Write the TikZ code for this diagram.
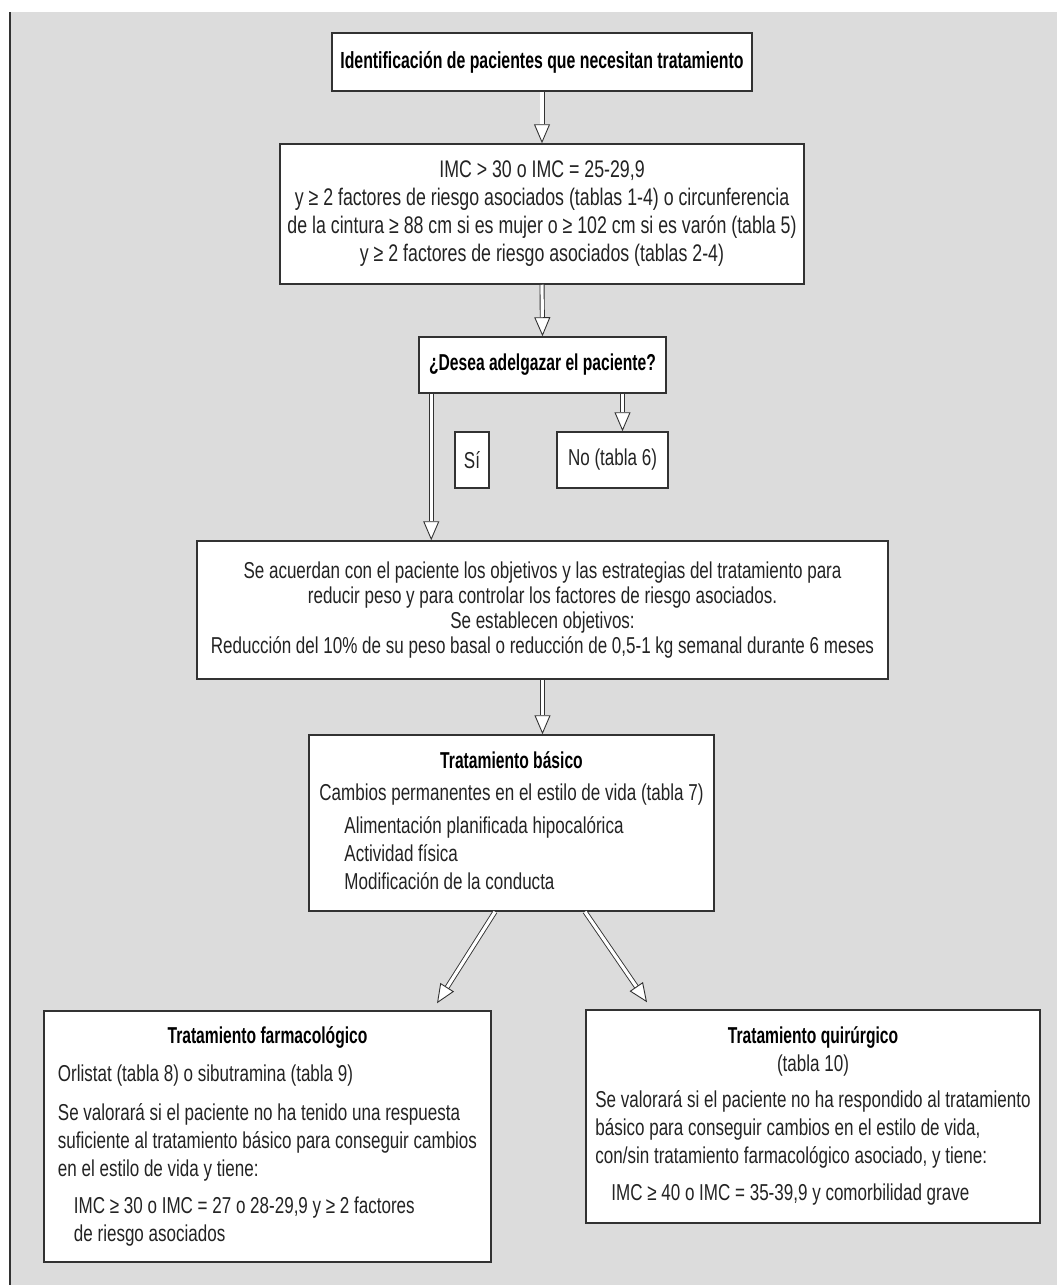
\documentclass[tikz,border=0pt]{standalone}
\usepackage{fontspec}
\setmainfont{Liberation Sans}[FakeStretch=0.74]
\newfontfamily\negrita{Liberation Sans Bold}[FakeStretch=0.68]
\usetikzlibrary{arrows.meta}
\definecolor{fondo}{RGB}{220,220,220}
\definecolor{borde}{RGB}{50,50,50}
\definecolor{texto}{RGB}{35,35,35}
\tikzset{
	caja/.style={draw=borde, line width=1.5pt, fill=white, inner sep=0pt, text=texto, font=\fontsize{23}{28}\selectfont},
	titulo/.style={caja, text=black, font=\fontsize{23}{28}\selectfont\negrita},
	flecha/.style={draw=borde, line width=0.9pt, double=white, double distance=3.2pt, -{Triangle[open, fill=white, length=19pt, width=16pt, line width=0.9pt]}}
}

\begin{document}
\begin{tikzpicture}[x=1pt, y=1pt]
			%%%%% START %%%%%
			
			\useasboundingbox (0,0) rectangle (1057,-1285);
			\fill[fondo] (10,-12) rectangle (1057,-1285);
			\draw[borde, line width=1.5pt] (10,-12) -- (10,-1285);
			
			\node[titulo, minimum width=420, minimum height=58, font=\fontsize{23.3}{30}\selectfont\negrita] (ident) at (542,-62) {Identificación de pacientes que necesitan tratamiento};
			
			\node[caja, minimum width=524, minimum height=140, align=center, font=\fontsize{24}{28}\selectfont] (crit) at (542,-214) {IMC > 30 o IMC = 25-29,9\\y ≥ 2 factores de riesgo asociados (tablas 1-4) o circunferencia\\de la cintura ≥ 88 cm si es mujer o ≥ 102 cm si es varón (tabla 5)\\y ≥ 2 factores de riesgo asociados (tablas 2-4)};
			
			\node[titulo, minimum width=247, minimum height=56] (desea) at (542.5,-365) {¿Desea adelgazar el paciente?};
			
			\node[caja, minimum width=34, minimum height=56] (si) at (472,-460) {Sí};
			\node[caja, minimum width=111, minimum height=56] (nobox) at (612.5,-460) {No (tabla 6)};
			
			\node[caja, minimum width=691, minimum height=138, align=center, font=\fontsize{23}{25}\selectfont] (acuerdo) at (542.5,-610) {Se acuerdan con el paciente los objetivos y las estrategias del tratamiento para\\reducir peso y para controlar los factores de riesgo asociados.\\Se establecen objetivos:\\Reducción del 10\% de su peso basal o reducción de 0,5-1 kg semanal durante 6 meses};
			
			\node[caja, minimum width=405, minimum height=176] (basico) at (511.5,-823) {\begin{tabular}{@{}l@{}}
				\multicolumn{1}{@{}c@{}}{\negrita\color{black}Tratamiento básico}\\[4pt]
				Cambios permanentes en el estilo de vida (tabla 7)\\[5pt]
				\hspace{25pt}Alimentación planificada hipocalórica\\
				\hspace{25pt}Actividad física\\
				\hspace{25pt}Modificación de la conducta
			\end{tabular}};
			
			\node[caja, minimum width=447, minimum height=251] (farm) at (267.5,-1136.5) {\begin{tabular}{@{}l@{}}
				\multicolumn{1}{@{}c@{}}{\negrita\color{black}Tratamiento farmacológico}\\[10pt]
				Orlistat (tabla 8) o sibutramina (tabla 9)\\[11pt]
				Se valorará si el paciente no ha tenido una respuesta\\
				suficiente al tratamiento básico para conseguir cambios\\
				en el estilo de vida y tiene:\\[9pt]
				\hspace{16pt}IMC ≥ 30 o IMC = 27 o 28-29,9 y ≥ 2 factores\\
				\hspace{16pt}de riesgo asociados
			\end{tabular}};
			
			\node[caja, minimum width=454, minimum height=213] (quir) at (813,-1116.5) {\begin{tabular}{@{}l@{}}
				\multicolumn{1}{@{}c@{}}{\negrita\color{black}Tratamiento quirúrgico}\\
				\multicolumn{1}{@{}c@{}}{(tabla 10)}\\[8pt]
				Se valorará si el paciente no ha respondido al tratamiento\\
				básico para conseguir cambios en el estilo de vida,\\
				con/sin tratamiento farmacológico asociado, y tiene:\\[9pt]
				\hspace{16pt}IMC ≥ 40 o IMC = 35-39,9 y comorbilidad grave
			\end{tabular}};
			
			\draw[flecha] (ident.south) -- (crit.north);
			\draw[flecha] (crit.south) -- (desea.north);
			\draw[flecha] ([xshift=13pt]desea.south west) -- ([xshift=13pt]desea.south west |- acuerdo.north);
			\draw[flecha] ([xshift=10pt]nobox.north |- desea.south) -- ([xshift=10pt]nobox.north);
			\draw[flecha] (acuerdo.south) -- (acuerdo.south |- basico.north);
			\draw[flecha] ([xshift=-16.5pt]basico.south) -- ([xshift=169.5pt, yshift=7pt]farm.north);
			\draw[flecha] ([xshift=73.5pt]basico.south) -- ([xshift=-166pt, yshift=7pt]quir.north);
			
			%%%%% END %%%%%
\end{tikzpicture}
\end{document}
